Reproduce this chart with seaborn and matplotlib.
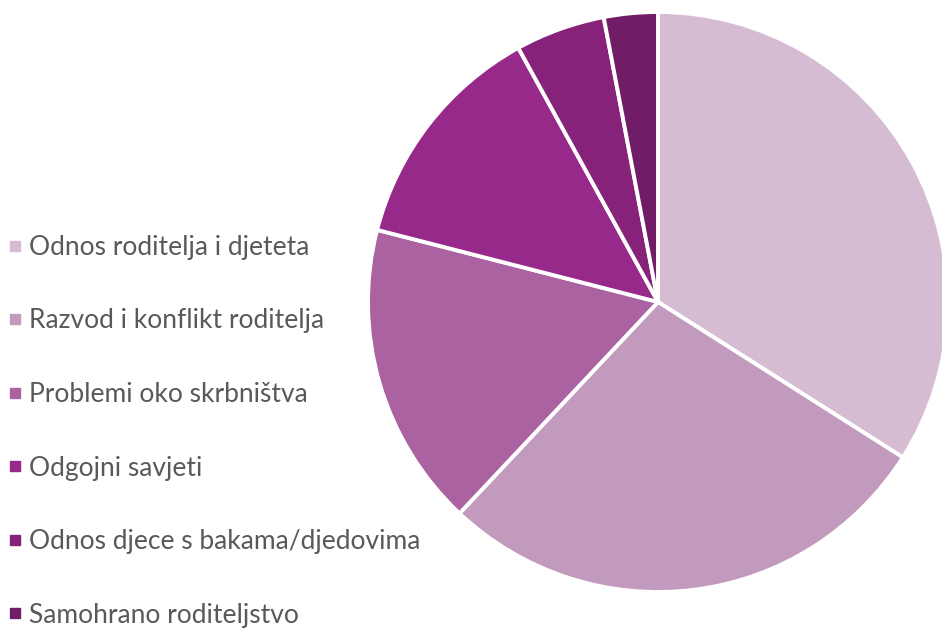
import matplotlib
matplotlib.use("Agg")
import matplotlib.pyplot as plt
from matplotlib.lines import Line2D
import seaborn as sns

categories = ['Odnos roditelja i djeteta', 'Razvod i konflikt roditelja',
              'Problemi oko skrbništva', 'Odgojni savjeti',
              'Odnos djece s bakama/djedovima', 'Samohrano roditeljstvo']
values = [34, 28, 17, 13, 5, 3]
colors = ['#D5BCD3', '#C29ABE', '#AB62A1', '#97298A', '#862279', '#711C66']

sns.set_theme(style="white")
plt.rcParams['font.family'] = ['Lato', 'DejaVu Sans']
pal = sns.color_palette(colors)

fig = plt.figure(figsize=(9.42, 6.3), dpi=100)
ax = fig.add_axes([368/942, 38/630, 580/942, 580/630])
ax.pie(values, colors=pal, startangle=90, counterclock=False,
       wedgeprops=dict(edgecolor='white', linewidth=2.8))
ax.set_xlim(-1, 1)
ax.set_ylim(-1, 1)
ax.set_aspect('equal')
ax.axis('off')

handles = [Line2D([], [], marker='s', linestyle='', markersize=6.5,
                  markerfacecolor=c, markeredgecolor=c) for c in pal]
fig.legend(handles, categories, loc='upper left',
           bbox_to_anchor=(-0.001, 1 - 227/630), frameon=False,
           fontsize=19, labelcolor='#595959', labelspacing=1.84,
           handlelength=0.6, handletextpad=0.25, borderaxespad=0, borderpad=0.3)

fig.savefig('out.png', dpi=100)
